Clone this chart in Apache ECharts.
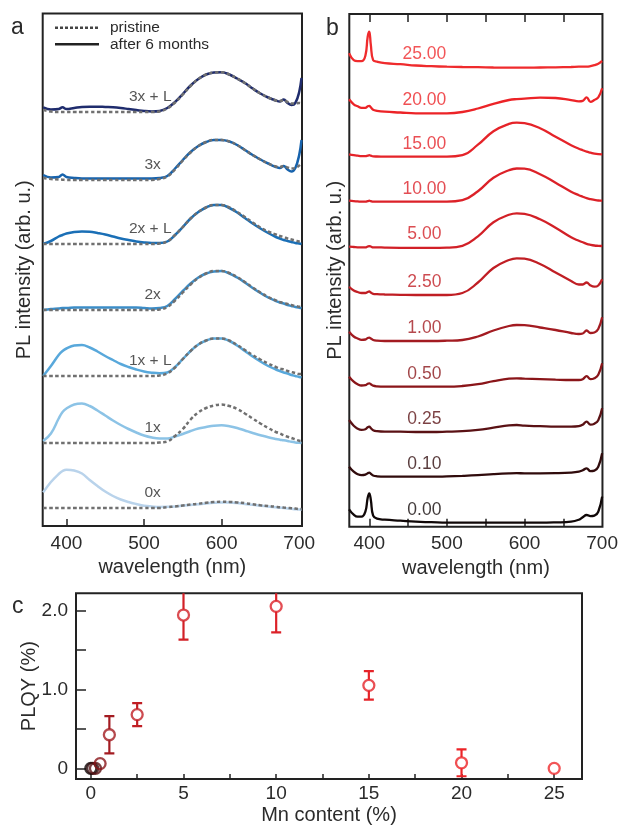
<!DOCTYPE html>
<html><head><meta charset="utf-8">
<script src="https://cdn.jsdelivr.net/npm/echarts@6/dist/echarts.min.js"></script>
<style>html,body{margin:0;padding:0;background:#fff}#c{width:621px;height:826px}</style>
</head><body><div id="c"></div>
<script>
// ---------- Panel a data ----------
const wlA = [370,380,390,395,400,410,420,430,440,450,460,470,480,490,500,510,520,530,540,550,560,570,580,590,600,610,620,630,640,650,660,670,675,680,685,690,695,700,703];
const samplesA = ['3x + L','3x','2x + L','2x','1x + L','1x','0x'];
const offsetsA = [414, 346, 282, 216, 150, 83, 18];
const labelWlA = [508, 511, 508, 511, 508, 511, 511];
const aged3xL = [4.7,2.5,3,4.7,3,4,5,5.3,5.3,5,4.7,4,3,2,1,0.5,1,4,10,18,26.5,33,37.5,39.5,39.8,37.5,33.5,29,23.5,18.5,14.5,11.5,10.5,12.5,9,7,9,20,34];
const pristine3xL = [2,0.5,0,0,0,0,0,0,0,0,0,0,0,0,0,0,0.5,3.5,9.5,17.5,26,33,37.5,39.5,39.8,37.5,33.5,29,23.5,18.5,14.5,11.5,11,12,10,8.5,8.5,9,8.7];
const aged3x = [5,2.5,3,5.5,3,2,1.5,1.5,1.5,1.5,1.5,1.5,1.5,1.5,1.5,1.5,2,4,11.5,20,28,34,38,40,40,38.5,35,30,25,20.5,16.5,13,12,14,10.5,8.5,12,25,40];
const pristine3x = [2,1,0.5,0.3,0,0,0,0,0,0,0,0,0,0,0,0,1,3.5,10.5,19.5,27.5,34,38,40,40,38.5,35,30,25,20.5,16.5,13.5,13,14,12.5,11.5,12,14.5,16.7];
const aged2xL = [0,3,7.5,9,10.5,12,12.6,12.3,11,9.5,7.5,5.5,4,2.5,1.5,1,1,2.5,9,17,25.5,32,36.5,39,39,36,31.5,26,20.5,15.5,11,7,5.5,4,3,2,1,0.5,0];
const pristine2xL = [0,0,0,0,0,0,0,0,0,0,0,0,0,0,0,0,0.5,2.5,9,17,25.5,32,36.5,39,39,36.5,32,27,21.5,16.5,12.5,9.5,8,7,5.5,4.5,3.5,2.6,2.5];
const aged2x = [0,1,1.5,2,2,2.5,2.5,2.5,2.5,2.5,2.5,2.5,2.5,2.5,2,1.5,2,4,11,19,26.5,32.5,36.5,38.5,39,36.5,32.5,27.5,22,17,12.5,9,7.5,6.5,5,4,3,2.3,2];
const pristine2x = [0,0,0,0,0,0,0,0,0,0,0,0,0,0,0,0,0.5,3,9.5,17.5,25.5,32,36.5,39,39,37,33,28,22.5,17.5,13,9.5,8,7,6,5,4,3.3,3];
const aged1xL = [0,10,21,25,27.5,30.5,31,28.5,24.5,20,16,12,9,6.5,4.5,3.3,2.7,3.5,9,17,25,31.5,35.5,37.5,37.5,35,30.5,25,19.5,14.5,10,6.5,5,3.5,2.5,1,0,-1,-1.3];
const pristine1xL = [0,0,0,0,0,0,0,0,0,0,0,0,0,0,0,0,0.5,2.5,8.5,17,25,31.5,35.5,37.5,37.5,35.5,31,26,21,16.5,12.5,9,7.5,6.5,5,4,3,2,2];
const aged1x = [2,9.5,24.5,31,34.5,38.5,39.4,37,32.5,27.5,22.5,18,14,10.5,7.5,5.5,4.5,4.5,6.5,9,12,14.5,16,17.3,17.7,16.8,15,12.5,10,7.8,5.7,4,3.3,2.7,2,1.2,0.6,0.2,0];
const pristine1x = [0,0,0,0,0,0,0,0,0,0,0,0,0,0,0,0,0.5,1.5,7,14,23.5,30.5,35,37.5,38.4,37,34,29.5,24.5,19.5,15,11,9.5,7.7,6.3,5,3.5,2.3,2];
const aged0x = [15.6,26,34,37,38.3,37.5,34.5,28,22,16.5,12,8.5,6,4,2.3,1.5,1,1.2,1.6,2.3,3,3.8,4.6,5.2,5.5,5.5,5,4,3.2,2.3,1.5,0.7,0.3,0,-0.4,-0.8,-1.2,-1.5,-1.7];
const pristine0x = [0,0,0,0,0,0,0,0,0,0,0,0,0,0,0,0,0,0.8,1.5,2.5,3.4,4.3,5.2,5.9,6.3,6.1,5.6,4.8,3.8,2.8,2,1.2,0.8,0.5,0.2,-0.2,-0.6,-1,-1];
const agedA = [aged3xL, aged3x, aged2xL, aged2x, aged1xL, aged1x, aged0x];
const pristineA = [pristine3xL, pristine3x, pristine2xL, pristine2x, pristine1xL, pristine1x, pristine0x];
const colorsA = ['#1f2c6d','#1763ad','#1a6fb6','#3b8dc8','#58a8db','#8cc3e6','#b9d3eb'];

// ---------- Panel b data ----------
const wlB = [374,380,385,390,395,398,400,402,405,410,420,440,460,480,500,520,540,560,580,590,600,620,640,660,670,675,680,685,690,695,700];
const mnLabels = ['25.00','20.00','15.00','10.00','5.00','2.50','1.00','0.50','0.25','0.10','0.00'];
const offsetsB = [460, 413.4, 370, 325, 279.4, 231.7, 185.7, 140, 95, 50, 4];
const pl25 = [13.4,6.5,5.5,5.5,11,30,35,22,6.5,5,3.5,2.5,1.2,0.5,0,-0.3,-0.5,-0.8,-1,-1,-1,-0.8,-0.6,-0.3,0,0,0,0.5,1.5,3,5.7];
const pl20 = [14,9,7,5.5,5.5,7,7.5,6,3.5,2.5,1.6,0.8,0,0,0,1.3,4.8,9.5,13.3,14.2,14.6,15.6,15.3,13.2,12,12.5,16,11.5,13.3,16,25];
const pl15 = [2.3,1.5,1,0.6,0.5,1,1.5,1,0.3,0.2,0.1,0,0,0,0,1.5,12,25.5,32.8,34,33.5,28.5,20,11.5,8,6.5,5,4,3,2.5,2.4];
const pl10 = [1,0.5,0.3,0,0,0.5,1,0.5,0,0,0,0,0,0,0,1.5,10.5,24,31.5,33.2,33,27.5,19,10,6.5,5,3.5,2.5,1.8,1.2,1];
const pl5 = [0.6,0.3,0,0,0,0.8,1.2,0.8,0,0,-0.3,-0.5,-0.5,-0.5,-0.3,1.5,11,25,32.5,34,33.5,28,19.5,10,6.5,5,3.5,2.5,1.8,1.5,1.3];
const pl2_5 = [8.3,4.5,3,2,2,3,3.5,2.5,1.2,0.8,0.5,0.2,0,0,0,2,12.5,27,35,36.7,36.3,31,22.5,14,10.5,10.5,12.5,9.5,8.3,9.5,15.7];
const pl1 = [9.3,4.5,2.5,1.2,1.5,3,3.3,2.5,1,0.3,0,0,0,0,0.3,1,4.5,10.5,15,16,15.8,13.5,11,8,7,7.5,10.5,8,8.5,12,23.7];
const pl0_5 = [10,5,2.5,1.2,1.5,3,3.4,2.5,1,0.3,0,0,0,0,0,0.7,2.5,5.5,8,8.4,8,7.5,7,6.7,6.7,7.5,10.5,7.5,8.5,12,23.4];
const pl0_25 = [11.7,6,3,1.8,2.5,4.5,5,3.5,1.5,0.5,0,0,-0.3,-0.3,0,0.5,1.8,4,6.3,6.7,6,5.5,5,5,5.5,7,10,7,8,11.5,23.4];
const pl0_1 = [10,5,2.5,1.5,2,3.5,4,3,1.2,0.4,0,0,0,0,0.3,0.8,1.5,2.5,3.3,3.5,3.4,3.4,3.5,4,5,6.5,8.4,5.5,6,10,23.4];
const pl0 = [13.4,8,6,6,11,25,29.4,23,7,4,3,2,1,0.5,0,0,0,0,0,0,0,0,0.3,1,3,5.5,7.7,6.5,7,11,26];
const curvesB = [pl25, pl20, pl15, pl10, pl5, pl2_5, pl1, pl0_5, pl0_25, pl0_1, pl0];
const colorsB = ['#ef2b2d','#ec2327','#e52329','#dc2128','#d22027','#c01e24','#a31b21','#8a1519','#5a1114','#300b0c','#100808'];

// ---------- Panel c data ----------
const mnContent = [0, 0.1, 0.25, 0.5, 1, 2.5, 5, 10, 15, 20, 25];
const plqy = [0, 0, 0, 0.06, 0.425, 0.68, 1.94, 2.05, 1.05, 0.07, 0];
const plqyErr = [0, 0, 0, 0, 0.235, 0.145, 0.31, 0.33, 0.18, 0.17, 0];
const colorsC = colorsB.slice().reverse();

// ---------- chart ----------
const FONT = "'Liberation Sans', Arial, Helvetica, sans-serif";
const TXT = '#2b2b2b';
const chart = echarts.init(document.getElementById('c'), null, {renderer: 'canvas'});

const series = [];
// panel a
for (let k = 0; k < samplesA.length; k++) {
  series.push({
    type: 'line', xAxisIndex: 0, yAxisIndex: 0, showSymbol: false, smooth: 0.4, z: 2,
    lineStyle: {color: colorsA[k], width: 2.5},
    data: wlA.map((w, i) => [w, agedA[k][i] + offsetsA[k]])
  });
}
for (let k = 0; k < samplesA.length; k++) {
  series.push({
    type: 'line', xAxisIndex: 0, yAxisIndex: 0, showSymbol: false, smooth: 0.4, z: 3,
    lineStyle: {color: '#707070', width: 2.5, type: [3.5, 2.5]},
    data: wlA.map((w, i) => [w, pristineA[k][i] + offsetsA[k]])
  });
}
series.push({
  type: 'scatter', xAxisIndex: 0, yAxisIndex: 0, symbolSize: 0, z: 5,
  label: {show: true, position: 'inside', formatter: p => p.name, color: TXT, fontSize: 15.5, fontFamily: FONT},
  data: samplesA.map((s, k) => ({name: s, value: [labelWlA[k], offsetsA[k] + 15.5]}))
});
// panel b
for (let k = 0; k < mnLabels.length; k++) {
  series.push({
    type: 'line', xAxisIndex: 1, yAxisIndex: 1, showSymbol: false, smooth: 0.45,
    lineStyle: {color: colorsB[k], width: 2.3},
    data: wlB.map((w, i) => [w, curvesB[k][i] + offsetsB[k]])
  });
}
series.push({
  type: 'scatter', xAxisIndex: 1, yAxisIndex: 1, symbolSize: 0, z: 5,
  label: {show: true, position: 'inside', formatter: p => p.name, fontSize: 17.5, fontFamily: FONT},
  data: mnLabels.map((s, k) => ({name: s, value: [471, offsetsB[k] + 13], label: {color: colorsB[k]}}))
});
// panel c
series.push({
  type: 'custom', xAxisIndex: 3, yAxisIndex: 2, clip: true, z: 3,
  renderItem: function (params, api) {
    const x = api.value(0), y = api.value(1), e = api.value(2);
    if (!e) return null;
    const col = colorsC[params.dataIndex];
    const c = api.coord([x, y]);
    const t = api.coord([x, y + e]);
    const b = api.coord([x, y - e]);
    const r = 5.5, hw = 5;
    const st = {stroke: col, lineWidth: 2.2};
    const ch = [];
    if (t[1] < c[1] - r) ch.push({type: 'line', shape: {x1: c[0], y1: t[1], x2: c[0], y2: c[1] - r}, style: st});
    if (b[1] > c[1] + r) ch.push({type: 'line', shape: {x1: c[0], y1: c[1] + r, x2: c[0], y2: b[1]}, style: st});
    ch.push({type: 'line', shape: {x1: c[0] - hw, y1: t[1], x2: c[0] + hw, y2: t[1]}, style: st});
    ch.push({type: 'line', shape: {x1: c[0] - hw, y1: b[1], x2: c[0] + hw, y2: b[1]}, style: st});
    return {type: 'group', children: ch};
  },
  data: mnContent.map((m, i) => [m, plqy[i], plqyErr[i]])
});
series.push({
  type: 'scatter', xAxisIndex: 3, yAxisIndex: 2, symbol: 'circle', symbolSize: 11, z: 4,
  data: mnContent.map((m, i) => ({value: [m, plqy[i]], itemStyle: {color: 'rgba(0,0,0,0)', borderColor: colorsC[i], borderWidth: 2.3}}))
});

const axisNameStyle = {fontSize: 20, color: TXT, fontFamily: FONT};
const tickLabelStyle = {fontSize: 19, color: TXT, fontFamily: FONT};
const noLine = {show: false, onZero: false};

const option = {
  animation: false,
  backgroundColor: '#fff',
  grid: [
    {left: 42.7, top: 13.5, width: 259.3, height: 512.5, show: true, borderColor: '#222', borderWidth: 2},
    {left: 349.3, top: 14, width: 253.7, height: 512.7, show: true, borderColor: '#222', borderWidth: 2},
    {left: 76, top: 593.3, width: 506, height: 185.7, show: true, borderColor: '#222', borderWidth: 2}
  ],
  xAxis: [
    {gridIndex: 0, type: 'value', min: 369.4, max: 703.6, position: 'bottom',
     axisLine: noLine, splitLine: {show: false},
     axisTick: {show: true, inside: true, length: 7, lineStyle: {color: '#222', width: 1.5}, customValues: [400, 500, 600]},
     axisLabel: Object.assign({margin: 8, customValues: [400, 500, 600, 700]}, tickLabelStyle),
     name: 'wavelength (nm)', nameLocation: 'middle', nameGap: 31, nameTextStyle: axisNameStyle},
    {gridIndex: 1, type: 'value', min: 374.3, max: 700.4, position: 'bottom',
     axisLine: noLine, splitLine: {show: false},
     axisTick: {show: true, inside: true, length: 8, lineStyle: {color: '#222', width: 1.5}, customValues: [400, 450, 500, 550, 600, 650]},
     axisLabel: Object.assign({margin: 8, customValues: [400, 500, 600, 700]}, tickLabelStyle),
     name: 'wavelength (nm)', nameLocation: 'middle', nameGap: 31, nameTextStyle: axisNameStyle},
    {gridIndex: 1, type: 'value', min: 374.3, max: 700.4, position: 'top',
     axisLine: noLine, splitLine: {show: false}, axisLabel: {show: false},
     axisTick: {show: true, inside: true, length: 8, lineStyle: {color: '#222', width: 1.5}, customValues: [400, 450, 500, 550, 600, 650]}},
    {gridIndex: 2, type: 'value', min: -0.8, max: 26.5, position: 'bottom',
     axisLine: noLine, splitLine: {show: false},
     axisTick: {show: true, inside: true, length: 5, lineStyle: {color: '#222', width: 1.5}, customValues: [0, 2.5, 5, 7.5, 10, 12.5, 15, 17.5, 20, 22.5, 25]},
     axisLabel: Object.assign({margin: 5, customValues: [0, 5, 10, 15, 20, 25]}, tickLabelStyle),
     name: 'Mn content (%)', nameLocation: 'middle', nameGap: 26, nameMoveOverlap: false, nameTextStyle: axisNameStyle}
  ],
  yAxis: [
    {gridIndex: 0, type: 'value', min: 0, max: 512.5,
     axisLine: noLine, axisTick: {show: false}, axisLabel: {show: false}, splitLine: {show: false},
     name: 'PL intensity (arb. u.)', nameLocation: 'middle', nameGap: 8, nameTextStyle: axisNameStyle},
    {gridIndex: 1, type: 'value', min: 0, max: 512.7,
     axisLine: noLine, axisTick: {show: false}, axisLabel: {show: false}, splitLine: {show: false},
     name: 'PL intensity (arb. u.)', nameLocation: 'middle', nameGap: 4, nameTextStyle: axisNameStyle},
    {gridIndex: 2, type: 'value', min: -0.135, max: 2.215,
     axisLine: noLine, splitLine: {show: false},
     axisTick: {show: true, inside: true, length: 10, lineStyle: {color: '#222', width: 1.5}, customValues: [0, 0.5, 1, 1.5, 2]},
     axisLabel: Object.assign({margin: 8, customValues: [0, 1, 2], formatter: v => v === 0 ? '0' : v.toFixed(1)}, tickLabelStyle),
     name: 'PLQY (%)', nameLocation: 'middle', nameGap: 37, nameMoveOverlap: false, nameTextStyle: axisNameStyle}
  ],
  graphic: [
    {type: 'text', left: 11, top: 16, style: {text: 'a', font: '23px ' + FONT, fill: TXT}},
    {type: 'text', left: 326, top: 17, style: {text: 'b', font: '23px ' + FONT, fill: TXT}},
    {type: 'text', left: 12, top: 595, style: {text: 'c', font: '23px ' + FONT, fill: TXT}},
    {type: 'line', shape: {x1: 55, y1: 27.7, x2: 99, y2: 27.7}, style: {stroke: '#444', lineWidth: 2.5, lineDash: [3, 2]}},
    {type: 'line', shape: {x1: 55, y1: 44.3, x2: 99, y2: 44.3}, style: {stroke: '#222', lineWidth: 2.5}},
    {type: 'text', x: 110, y: 27.7, style: {text: 'pristine', font: '15.5px ' + FONT, fill: TXT, textVerticalAlign: 'middle'}},
    {type: 'text', x: 110, y: 44.3, style: {text: 'after 6 months', font: '15.5px ' + FONT, fill: TXT, textVerticalAlign: 'middle'}}
  ],
  series: series
};
chart.setOption(option);
</script></body></html>
